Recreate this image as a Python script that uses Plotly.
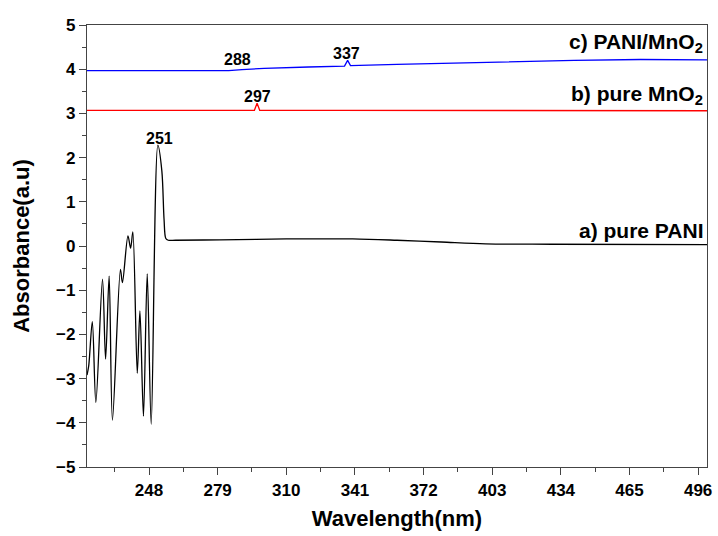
import plotly.graph_objects as go

# ---- data ----
pani_x = [220, 220.8, 222.4, 224.0, 227.0, 228.4, 230.0, 231.5, 235.1, 236.0, 238.5, 239.7, 240.7,
          242.7, 243.9, 245.5, 247.2, 249.0, 252.0, 253.8, 254.8, 255.6, 256.7, 260, 280, 310,
          340, 360, 380, 400, 430, 500]
pani_y = [-2.92, -2.7, -1.71, -3.54, -0.75, -2.56, -0.68, -3.94, -0.53, -0.83, 0.23, -0.05, 0.32,
          -2.88, -1.47, -3.85, -0.63, -4.03, 2.28, 1.7, 0.6, 0.17, 0.13, 0.13, 0.14, 0.16,
          0.16, 0.13, 0.09, 0.05, 0.04, 0.03]

mno2_x = [220, 260, 295.6, 296.8, 298.0, 330, 400, 500]
mno2_y = [3.07, 3.07, 3.07, 3.23, 3.07, 3.07, 3.06, 3.06]

comp_x = [220, 284, 290, 300, 320, 336.3, 337.7, 339.0, 360, 400, 440, 470, 500]
comp_y = [3.97, 3.97, 3.99, 4.02, 4.05, 4.07, 4.20, 4.08, 4.11, 4.16, 4.20, 4.22, 4.21]

peak_x = [252.6, 297, 288, 337]
peak_y = [2.28, 3.23, 4.07, 4.20]
peak_text = ["251", "297", "288", "337"]

labels = ["c) PANI/MnO<sub>2</sub>", "b) pure MnO<sub>2</sub>", "a) pure PANI"]
label_y = [4.22, 3.06, 0.03]

x_ticks = [248, 279, 310, 341, 372, 403, 434, 465, 496]
y_ticks = [-5, -4, -3, -2, -1, 0, 1, 2, 3, 4, 5]

FONT = "Liberation Sans, Arial, sans-serif"

fig = go.Figure()
fig.add_trace(go.Scatter(x=pani_x, y=pani_y, mode="lines",
                         line=dict(color="black", width=1.3, shape="spline", smoothing=0.9)))
fig.add_trace(go.Scatter(x=mno2_x, y=mno2_y, mode="lines", line=dict(color="red", width=1.3)))
fig.add_trace(go.Scatter(x=comp_x, y=comp_y, mode="lines", line=dict(color="blue", width=1.3)))

for px, py, t in zip(peak_x, peak_y, peak_text):
    fig.add_annotation(x=px, y=py, text="<b>%s</b>" % t, showarrow=False, yanchor="bottom",
                       yshift=-4, font=dict(family=FONT, size=16, color="black"))

for t, ly in zip(labels, label_y):
    fig.add_annotation(x=499, y=ly, text="<b>%s</b>" % t, showarrow=False, xanchor="right",
                       yanchor="bottom", yshift=1, font=dict(family=FONT, size=21, color="black"))

fig.update_layout(
    width=718, height=536,
    margin=dict(l=87, r=6, t=25, b=69),
    paper_bgcolor="white", plot_bgcolor="white",
    showlegend=False,
    font=dict(family=FONT, color="black"),
)
fig.update_xaxes(range=[220, 500], tickvals=x_ticks, ticks="outside", ticklen=7, tickwidth=1.3,
                 tickcolor="#444", showline=True, linecolor="#444", linewidth=1.3, mirror=True,
                 showgrid=False, zeroline=False,
                 minor=dict(dtick=15.5, tick0=248, ticks="outside", ticklen=4, tickcolor="#444"),
                 tickfont=dict(family=FONT, size=17, weight="bold"),
                 title=dict(text="<b>Wavelength(nm)</b>", font=dict(family=FONT, size=22), standoff=12))
fig.update_yaxes(range=[-5, 5], tickvals=y_ticks, ticks="outside", ticklen=7, tickwidth=1.3,
                 tickcolor="#444", showline=True, linecolor="#444", linewidth=1.3, mirror=True,
                 showgrid=False, zeroline=False,
                 minor=dict(dtick=0.5, tick0=0, ticks="outside", ticklen=4, tickcolor="#444"),
                 tickfont=dict(family=FONT, size=17, weight="bold"),
                 title=dict(text="<b>Absorbance(a.u)</b>", font=dict(family=FONT, size=22), standoff=20))

fig.write_html("out.html")
